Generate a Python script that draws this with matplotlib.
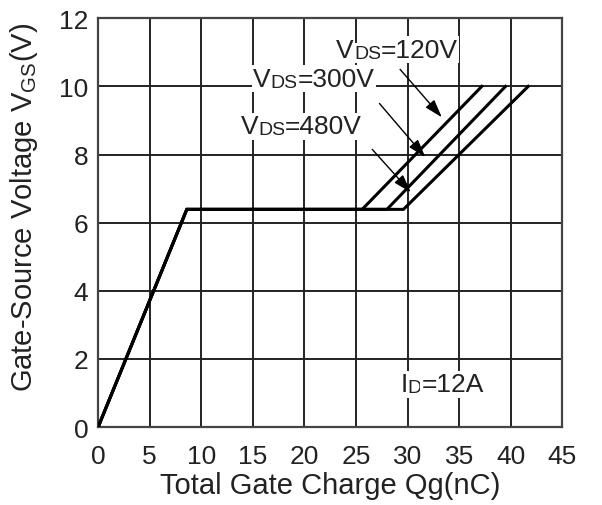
import matplotlib.pyplot as plt

plt.rcParams['font.family'] = ['Liberation Sans', 'DejaVu Sans']

# gate charge curves (nC, V) for each VDS
qg_120 = [0, 8.6, 25.6, 37.2]
qg_300 = [0, 8.6, 28.0, 39.5]
qg_480 = [0, 8.6, 29.6, 41.7]
vgs = [0, 6.39, 6.39, 10.0]

vds_labels = ["120V", "300V", "480V"]
label_pos = [(23.1, 11.08), (15.0, 10.23), (13.8, 8.83)]
arrow_start = [(29.1, 10.56), (27.1, 9.56), (26.4, 8.21)]
arrow_tip = [(33.5, 9.03), (31.9, 7.86), (30.5, 6.83)]

xticks = list(range(0, 50, 5))
yticks = list(range(0, 14, 2))

fig = plt.figure(figsize=(6.02, 5.06), dpi=100)
ax = fig.add_axes([0.163, 0.154, 0.771, 0.808])

for q in (qg_120, qg_300, qg_480):
    ax.plot(q, vgs, c='black', lw=2.2, solid_joinstyle='miter', zorder=3)

ax.set_xlim(0, 45)
ax.set_ylim(0, 12)
ax.set_xticks(xticks)
ax.set_yticks(yticks)
ax.grid(True, c='#222222', lw=1.4)
ax.tick_params(length=0, labelsize=19, colors='#222222')
ax.tick_params(axis='x', pad=12)
ax.tick_params(axis='y', pad=7)
for s in ax.spines.values():
    s.set_linewidth(1.6)
    s.set_color('#444444')

box = dict(facecolor='white', edgecolor='none', pad=1)
txt = dict(bbox=box, zorder=4, color='#222222')

def sub_text(x, y, main, sub, rest):
    t1 = ax.text(x, y, main, fontsize=19, va='center', **txt)
    t2 = ax.annotate(sub, xy=(1, 0), xycoords=t1, va='bottom', fontsize=14, **txt)
    ax.annotate(rest, xy=(1, 0), xycoords=t2, va='bottom', fontsize=19, **txt)

for lab, p, a0, a1 in zip(vds_labels, label_pos, arrow_start, arrow_tip):
    sub_text(p[0], p[1], "V", "DS", "=" + lab)
    ax.annotate("", xy=a1, xytext=a0,
                arrowprops=dict(arrowstyle='-|>,head_length=1.1,head_width=0.35',
                                color='black', lw=1), zorder=5)

sub_text(29.3, 1.25, "I", "D", "=12A")

ax.set_xlabel("Total Gate Charge Qg(nC)", fontsize=21, color='#222222', labelpad=2)
ax.set_ylabel(r"Gate-Source Voltage V$_{\mathregular{GS}}$(V)", fontsize=21, color='#222222')
ax.yaxis.set_label_coords(-0.125, 0.54)

fig.savefig("out.png", dpi=100)
